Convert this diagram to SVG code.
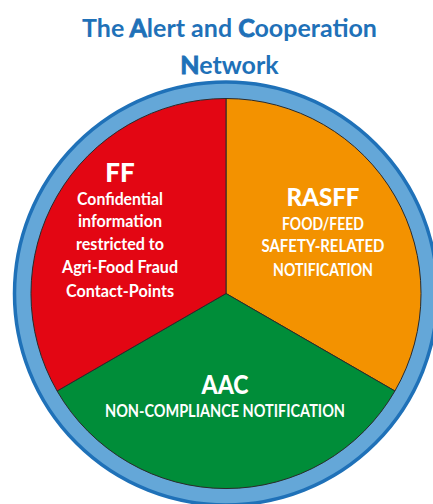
<svg xmlns="http://www.w3.org/2000/svg" width="433" height="504" viewBox="0 0 433 504">
<style>
.t{fill:#1f71b8;font-family:Lato,"Open Sans",sans-serif;font-size:25px;font-weight:700;text-anchor:middle}
.tb{stroke:#1f71b8;stroke-width:0.9}
.h{fill:#fff;font-family:Lato,"Open Sans",sans-serif;font-weight:900;text-anchor:middle}
.b{fill:#fff;font-family:Lato,"Open Sans",sans-serif;font-weight:700;font-size:16.5px;text-anchor:middle}
.seg{stroke:#2a2a2a;stroke-width:1}
</style>
<rect width="433" height="504" fill="#fff"/>
<g id="title">
<text class="t" x="229.5" y="37">The <tspan class="tb">A</tspan>lert and <tspan class="tb">C</tspan>ooperation</text>
<text class="t" x="229.5" y="74"><tspan class="tb">N</tspan>etwork</text>
</g>
<g id="ring">
<circle cx="226" cy="293.5" r="211.5" fill="#64a7d8" stroke="#1f71b8" stroke-width="3.5"/>
</g>
<g id="connectors">
<path class="seg" d="M226,293.5 L226,98.5 A195,195 0 0 1 394.9,391 Z" fill="#f39200"/>
<path class="seg" d="M226,293.5 L394.9,391 A195,195 0 0 1 57.1,391 Z" fill="#008d39"/>
<path class="seg" d="M226,293.5 L57.1,391 A195,195 0 0 1 226,98.5 Z" fill="#e30613"/>
</g>
<g id="ff">
<text class="h" x="120" y="182" font-size="26">FF</text>
<text class="b" x="120" y="205" textLength="86" lengthAdjust="spacingAndGlyphs">Confidential</text>
<text class="b" x="120" y="227" textLength="84" lengthAdjust="spacingAndGlyphs">information</text>
<text class="b" x="120" y="250" textLength="88" lengthAdjust="spacingAndGlyphs">restricted to</text>
<text class="b" x="120" y="273" textLength="116" lengthAdjust="spacingAndGlyphs">Agri-Food Fraud</text>
<text class="b" x="120" y="297" textLength="108" lengthAdjust="spacingAndGlyphs">Contact-Points</text>
</g>
<g id="rasff">
<text class="h" x="323" y="206" font-size="25" textLength="73" lengthAdjust="spacingAndGlyphs">RASFF</text>
<text class="b" x="323" y="230" textLength="82" lengthAdjust="spacingAndGlyphs">FOOD/FEED</text>
<text class="b" x="323" y="252" textLength="123" lengthAdjust="spacingAndGlyphs">SAFETY-RELATED</text>
<text class="b" x="323" y="276" textLength="100" lengthAdjust="spacingAndGlyphs">NOTIFICATION</text>
</g>
<g id="aac">
<text class="h" x="225" y="394" font-size="26" textLength="47" lengthAdjust="spacingAndGlyphs">AAC</text>
<text class="b" x="225" y="417" textLength="240" lengthAdjust="spacingAndGlyphs">NON-COMPLIANCE NOTIFICATION</text>
</g>
</svg>
